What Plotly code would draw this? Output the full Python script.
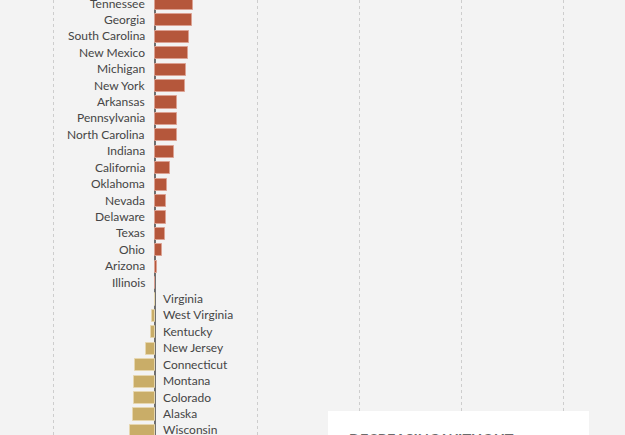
import plotly.graph_objects as go

states = ["Tennessee", "Georgia", "South Carolina", "New Mexico", "Michigan", "New York",
          "Arkansas", "Pennsylvania", "North Carolina", "Indiana", "California", "Oklahoma",
          "Nevada", "Delaware", "Texas", "Ohio", "Arizona", "Illinois",
          "Virginia", "West Virginia", "Kentucky", "New Jersey", "Connecticut", "Montana",
          "Colorado", "Alaska", "Wisconsin"]
values = [3.7, 3.6, 3.3, 3.2, 3.0, 2.95, 2.2, 2.15, 2.15, 1.9, 1.45, 1.15, 1.08, 1.08, 1.0,
          0.65, 0.15, 0.02,
          0.0, -0.3, -0.43, -0.85, -2.0, -2.05, -2.1, -2.2, -2.5]
box_title = "DECREASING WITHOUT"

POS, POS_LINE = "#b5573b", "#dba192"
NEG, NEG_LINE = "#c9ad68", "#e6d6ae"

idx = list(range(len(states)))
colors = [POS if v > 0 else NEG for v in values]
lines = [POS_LINE if v > 0 else NEG_LINE for v in values]

fig = go.Figure()
fig.add_trace(go.Bar(
    x=values, y=idx, orientation="h", width=0.74,
    marker=dict(color=colors, line=dict(color=lines, width=1)),
    hoverinfo="skip",
))

annotations = []
for i, (s, v) in enumerate(zip(states, values)):
    pos = v > 0 or (v == 0 and i < 18)
    annotations.append(dict(
        x=0, y=i, xref="x", yref="y", text=s, showarrow=False, yshift=1,
        xanchor="right" if pos else "left", xshift=-8 if pos else 6,
        font=dict(family="Lato", size=12, color="#454545"),
    ))

annotations.append(dict(
    x=347 / 625, y=1 - 428.5 / 435, xref="paper", yref="paper", text=box_title,
    showarrow=False, xanchor="left", yanchor="top",
    font=dict(family="Lato", size=14.5, color="#6a6a6a", weight="bold"),
))

fig.update_layout(
    width=625, height=435, margin=dict(l=0, r=0, t=0, b=0),
    paper_bgcolor="#f3f3f3", plot_bgcolor="#f3f3f3",
    showlegend=False, bargap=0,
    xaxis=dict(range=[-155 / 10.2, 470 / 10.2], dtick=10, tick0=0, showgrid=True,
               griddash="dot", gridcolor="#cdcdcd", gridwidth=1,
               zeroline=True, zerolinecolor="#6f6f6f", zerolinewidth=1.5,
               showticklabels=False, ticks=""),
    yaxis=dict(range=[26.25, -0.2436], showgrid=False, zeroline=False,
               showticklabels=False, ticks=""),
    annotations=annotations,
    shapes=[dict(type="rect", xref="paper", yref="paper",
                 x0=328 / 625, x1=589 / 625, y0=-0.05, y1=1 - 411 / 435,
                 fillcolor="#ffffff", line=dict(width=0), layer="above")],
)

fig.write_html("out.html")
